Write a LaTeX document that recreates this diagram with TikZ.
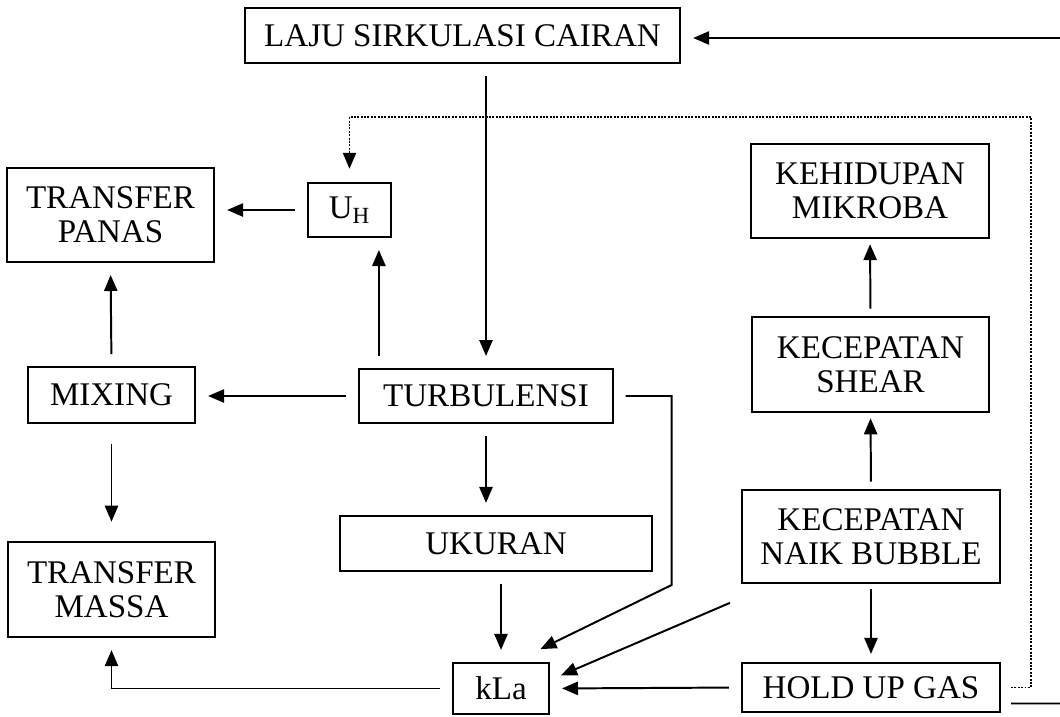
\documentclass[tikz,border=0pt]{standalone}
\usepackage{fontspec}
\setmainfont{Liberation Serif}
\usetikzlibrary{arrows.meta}
\tikzset{
	kotak/.style={draw, line width=1.4pt, inner sep=0pt, align=center, font=\fontsize{23.5}{24}\selectfont},
	panah/.style={line width=1.4pt, -{Triangle[length=0.4cm, width=0.33cm]}, shorten <=0.3cm, shorten >=0.3cm},
	titik/.style={panah, densely dotted, line width=1.1pt}
}

\begin{document}
\begin{tikzpicture}[x=0.025cm, y=-0.025cm]
		\useasboundingbox (0,0) rectangle (1060,717);
		% boxes on the left
		\node[kotak, minimum width=5.18cm, minimum height=2.35cm] (panas) at (110.5,215) {TRANSFER\\PANAS};
		\node[kotak, minimum width=4.18cm, minimum height=1.4cm] (mixing) at (111.5,395) {MIXING};
		\node[kotak, minimum width=5.18cm, minimum height=2.38cm] (massa) at (111.5,589.5) {TRANSFER\\MASSA};
		% boxes in the middle
		\node[kotak, minimum width=10.88cm, minimum height=1.38cm] (laju) at (462.5,35.5) {LAJU SIRKULASI CAIRAN};
		\node[kotak, minimum width=2.08cm, minimum height=1.35cm] (uh) at (349.5,210) {U\textsubscript{H}};
		\node[kotak, minimum width=6.33cm, minimum height=1.35cm] (turbulensi) at (486,396) {TURBULENSI};
		\node[kotak, minimum width=7.8cm, minimum height=1.38cm] (ukuran) at (496,543.5) {UKURAN};
		\node[kotak, minimum width=2.4cm, minimum height=1.28cm] (kla) at (501,688.5) {kLa};
		% boxes on the right
		\node[kotak, minimum width=5.95cm, minimum height=2.35cm] (mikroba) at (870,191) {KEHIDUPAN\\MIKROBA};
		\node[kotak, minimum width=5.93cm, minimum height=2.38cm] (shear) at (870.5,364.5) {KECEPATAN\\SHEAR};
		\node[kotak, minimum width=6.45cm, minimum height=2.33cm] (bubble) at (871,536.5) {KECEPATAN\\NAIK BUBBLE};
		\node[kotak, minimum width=6.45cm, minimum height=1.23cm] (holdup) at (871,687.5) {HOLD UP GAS};
		\coordinate (tepiatas) at (1060,38);
		\coordinate (tepibawah) at (1060,703.5);
		% arrows
		\draw[panah, shorten <=0pt] (tepiatas) -- (tepiatas -| laju.east);
		\draw[panah] (laju.south -| turbulensi.north) -- (turbulensi.north);
		\draw[panah] ([xshift=-0.33cm]uh.south east |- turbulensi.north) -- ([xshift=-0.33cm]uh.south east);
		\draw[panah] (uh.west) -- (uh.west -| panas.east);
		\draw[panah] (turbulensi.west) -- (turbulensi.west -| mixing.east);
		\draw[panah] (mixing.north) -- (panas.south);
		\draw[panah, shorten <=0.5cm, shorten >=0.48cm] (mixing.south) -- (massa.north);
		\draw[panah] (turbulensi.south) -- (turbulensi.south |- ukuran.north);
		\draw[panah] (ukuran.south -| kla.north) -- (kla.north);
		\draw[panah, shorten >=0.73cm] (turbulensi.east) -- ++(58,0) -- ++(0,189) -- ([xshift=0.33cm]kla.north);
		\draw[panah] ([yshift=-0.35cm]bubble.south west) -- ([yshift=0.21cm]kla.east);
		\draw[panah] (holdup.west) -- (kla.east);
		\draw[panah] (kla.west) -| (massa.south);
		\draw[panah, shorten <=0.18cm, shorten >=0.13cm] (bubble.north) -- (shear.south);
		\draw[panah, shorten <=0.18cm, shorten >=0.13cm] (shear.north) -- (mikroba.south);
		\draw[panah, shorten <=0.13cm, shorten >=0.2cm] (bubble.south) -- (holdup.north);
		% dotted return to U_H
		\draw[titik, shorten <=0.25cm, shorten >=0.33cm] (holdup.east) -- ++(30,0) -- ++(0,-570.5) -| (uh.north);
		\draw[line width=1.4pt, shorten <=0.25cm] ([yshift=-0.4cm]holdup.east) -- (tepibawah);
	\end{tikzpicture}
\end{document}
